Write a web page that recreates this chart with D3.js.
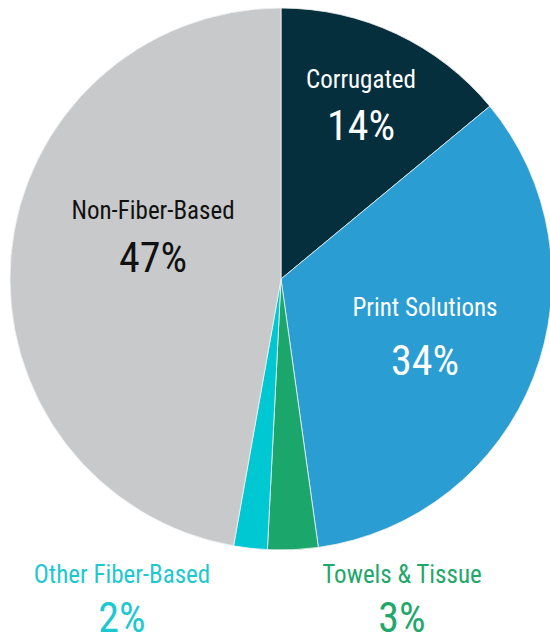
<!DOCTYPE html>
<html>
<head>
<script src="https://d3js.org/d3.v7.min.js"></script>
<style>
    body { margin: 0; background: #fff; }
    svg text { font-family: "Roboto Condensed", "Liberation Sans Narrow", "Arial Narrow", sans-serif; font-weight: 400; text-anchor: middle; }
</style>
</head>
<body>
<svg width="550" height="639"></svg>
<script>
// slice order: clockwise from 12 o'clock; shares
var categories = ["Corrugated", "Print Solutions", "Towels & Tissue", "Other Fiber-Based", "Non-Fiber-Based"];
var shares = [14, 33.8, 3.0, 2.0, 47.2];
var sliceColors = ["#062f3e", "#2a9dd3", "#1ba66b", "#00c8d2", "#c8c9cb"];
var textColors = ["#ffffff", "#ffffff", "#1fa76c", "#1ec8d0", "#111111"];

// label anchors (name baseline, value baseline is gap below it)
var labelLayout = {
    "Corrugated":        {x: 361, y: 88,  gap: 52},
    "Print Solutions":   {x: 425, y: 316, gap: 59},
    "Towels & Tissue":   {x: 402, y: 583, gap: 49},
    "Other Fiber-Based": {x: 122, y: 583, gap: 49},
    "Non-Fiber-Based":   {x: 153, y: 219, gap: 53}
};

var svg = d3.select("svg"),
    cx = 281, cy = 279, radius = 271;

var data = categories.map(function (c, i) {
    return {name: c, value: shares[i], color: sliceColors[i], text: textColors[i]};
});

var pie = d3.pie()
    .sort(null)
    .value(function (d) { return d.value; });

var arc = d3.arc()
    .innerRadius(0)
    .outerRadius(radius);

var g = svg.append("g").attr("transform", "translate(" + cx + "," + cy + ")");

g.selectAll(".slice")
    .data(pie(data))
    .enter().append("path")
    .attr("class", "slice")
    .attr("d", arc)
    .attr("fill", function (d) { return d.data.color; })
    .attr("stroke", "#f2f2f2")
    .attr("stroke-width", 0.8);

var labels = svg.selectAll(".label")
    .data(data)
    .enter().append("g")
    .attr("class", "label")
    .attr("transform", function (d) {
        var p = labelLayout[d.name];
        return "translate(" + p.x + "," + p.y + ")";
    });

labels.append("text")
    .attr("fill", function (d) { return d.text; })
    .style("font-size", "25px")
    .text(function (d) { return d.name; });

labels.append("text")
    .attr("y", function (d) { return labelLayout[d.name].gap; })
    .attr("fill", function (d) { return d.text; })
    .style("font-size", "42px")
    .text(function (d) { return Math.round(d.value) + "%"; });
</script>
</body>
</html>
